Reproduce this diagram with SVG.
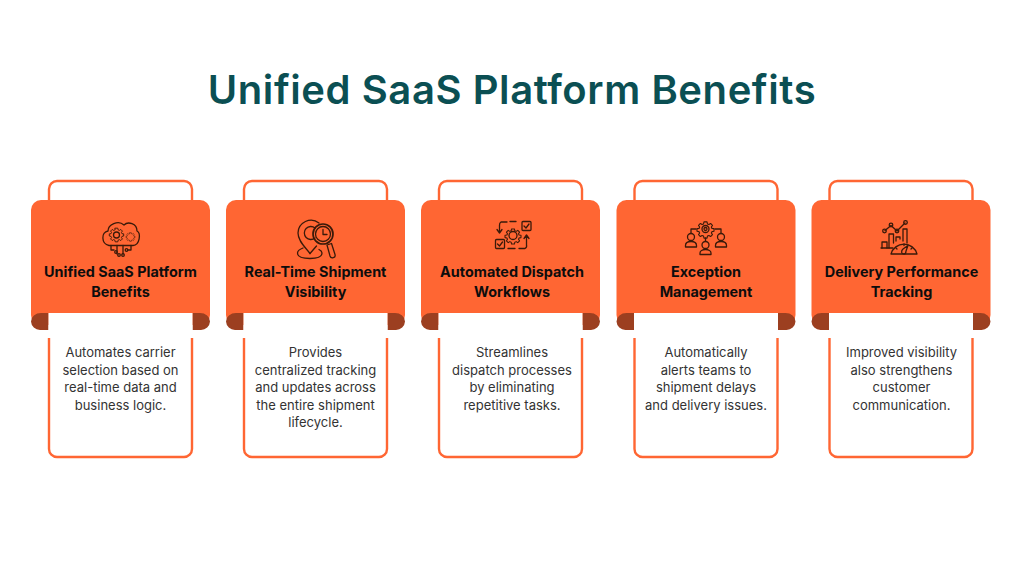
<svg xmlns="http://www.w3.org/2000/svg" width="1024" height="576" viewBox="0 0 1024 576">
<style>
.t{font-family:"Inter","Liberation Sans",sans-serif}
.title{font-size:40px;font-weight:600;letter-spacing:.58px;fill:#0b4f53;text-anchor:middle}
.h{font-size:14.4px;font-weight:700;fill:#0d0d0d;text-anchor:middle}
.b{font-size:13px;font-weight:400;fill:#333;text-anchor:middle}
.i{fill:none;stroke:#3a1a0a;stroke-width:1.3;stroke-linecap:round;stroke-linejoin:round}
.line{fill:none;stroke:#ff6633;stroke-width:2.4}
</style>
<defs>
<g id="card">
<path class="line" d="M18 201V189a8 8 0 0 1 8-8H153a8 8 0 0 1 8 8V201"/>
<path class="line" d="M18 338V449a8 8 0 0 0 8 8H153a8 8 0 0 0 8-8V338"/>
<rect x="0" y="200" width="179" height="125" rx="10" fill="#ff6633"/>
<path d="M17.500 313H10a10 8.500 0 0 0-10 8.500a9 9 0 0 0 9 8.500H17.500Z" fill="#9c3f20"/>
<path d="M161.500 313H169a10 8.500 0 0 1 10 8.500a9 9 0 0 1-9 8.500H161.500Z" fill="#9c3f20"/>
<rect x="17.500" y="313" width="144" height="25" fill="#fff"/>
</g>
<g id="gear">
<path d="M-1.800-8H1.800L2.300-5.600 4-4.900 6-6.200 8.200-4 6.900-2 7.600-.3 10-.1V2.900L7.600 3.400 6.900 5 8.200 7 6 9.200 4 7.900 2.300 8.600 1.800 11H-1.800L-2.300 8.600-4 7.900-6 9.200-8.200 7-6.900 5-7.600 3.400-10 2.900V-.1L-7.600-.3-6.900-2-8.200-4-6-6.200-4-4.900-2.300-5.600Z" transform="translate(0 -1.500)"/>
</g>
</defs>

<text class="t title" x="512" y="104">Unified SaaS Platform Benefits</text>

<g id="node-1" transform="translate(31 0)">
<use href="#card"/>
<g class="i" transform="translate(-31 0)">
<path d="M109 245.500C101 244 101 232 108 231C108 225 118 219.500 124 225C128 221 137 223.500 137 231C141 233 140 245 133 245.500H109Z"/>
<use href="#gear" transform="translate(116.500 235) scale(.72)"/>
<circle cx="116.500" cy="235" r="3"/>
<use href="#gear" transform="translate(130.500 237) scale(.45)"/>
<path d="M111 245.500V250H114M117 245.500V254M123 245.500V254M131 245.500V250H128"/>
<circle cx="116" cy="252" r="1.300"/><circle cx="119" cy="255" r="1.300"/><circle cx="123" cy="255" r="1.300"/><circle cx="126.500" cy="250" r="1.300"/>
</g>
<text class="t h" x="89.500" y="277">Unified SaaS Platform</text>
<text class="t h" x="89.500" y="297">Benefits</text>
<text class="t b" x="89.500" y="357">Automates carrier</text>
<text class="t b" x="89.500" y="375">selection based on</text>
<text class="t b" x="89.500" y="392">real-time data and</text>
<text class="t b" x="89.500" y="410">business logic.</text>
</g>

<g id="node-2" transform="translate(226 0)">
<use href="#card"/>
<g class="i" transform="translate(-226 0)">
<path d="M310 253.500C305 247 298 241 298 233A13 13 0 0 1 319 223"/>
<path d="M310 253.500L316.500 246"/>
<path d="M315 228A6.500 6.500 0 1 0 315 238"/>
<path d="M303 248C299 249.500 297.500 251 297.500 253C297.500 257 304 258.500 310 258.500C316 258.500 322 257 322 253C322 251.500 321 250.500 319 249.500"/>
<circle cx="323" cy="234" r="10" stroke-width="1.700"/>
<circle cx="323" cy="234" r="7.500"/>
<path d="M323 229.500V234.500H327"/>
<path d="M327 245L331.500 243.500L335 254.500A2.500 2.500 0 0 1 330 256Z"/>
</g>
<text class="t h" x="89.500" y="277">Real-Time Shipment</text>
<text class="t h" x="89.500" y="297">Visibility</text>
<text class="t b" x="89.500" y="357">Provides</text>
<text class="t b" x="89.500" y="375">centralized tracking</text>
<text class="t b" x="89.500" y="392">and updates across</text>
<text class="t b" x="89.500" y="410">the entire shipment</text>
<text class="t b" x="89.500" y="427">lifecycle.</text>
</g>

<g id="node-3" transform="translate(421 0)">
<use href="#card"/>
<g class="i" transform="translate(-421 0)">
<use href="#gear" transform="translate(513 236.500) scale(.8)"/>
<circle cx="513" cy="235.500" r="4"/>
<rect x="522" y="221.500" width="9" height="9" rx="1"/><path d="M524 226L526 228L529 224"/>
<rect x="495.500" y="239.500" width="9" height="9" rx="1"/><path d="M497.500 244L499.500 246L502.500 242"/>
<path d="M507 222H501A3.500 3.500 0 0 0 499.500 225V232M497 229.500L499.500 233L502 229.500"/>
<path d="M510 221.500H516"/>
<path d="M519 248.500H525A3 3 0 0 0 526.500 245V236.500M524 238.500L526.500 235L529 238.500"/>
<path d="M508 248.500H515"/>
</g>
<text class="t h" x="91" y="277">Automated Dispatch</text>
<text class="t h" x="91" y="297">Workflows</text>
<text class="t b" x="91" y="357">Streamlines</text>
<text class="t b" x="91" y="375">dispatch processes</text>
<text class="t b" x="91" y="392">by eliminating</text>
<text class="t b" x="91" y="410">repetitive tasks.</text>
</g>

<g id="node-4" transform="translate(616.500 0)">
<use href="#card"/>
<g class="i" transform="translate(-616.500 0)">
<use href="#gear" transform="translate(705.500 230) scale(.85)"/>
<circle cx="705.500" cy="229" r="3.500"/>
<circle cx="705.500" cy="229" r="1.500"/>
<path d="M696 229H691V233M715 229H721V233M705.500 238V241"/>
<circle cx="691" cy="237" r="3.500"/><path d="M685.500 247V245.500C685.500 243 688 241.500 691 241.500C694 241.500 696.500 243 696.500 245.500V247Z"/>
<circle cx="721" cy="237" r="3.500"/><path d="M715.500 247V245.500C715.500 243 718 241.500 721 241.500C724 241.500 726.500 243 726.500 245.500V247Z"/>
<circle cx="705.500" cy="245" r="3.500"/><path d="M700 254.500V253C700 251 702.500 249.500 705.500 249.500C708.500 249.500 711 251 711 253V254.500Z"/>
</g>
<text class="t h" x="89.500" y="277">Exception</text>
<text class="t h" x="89.500" y="297">Management</text>
<text class="t b" x="89.500" y="357">Automatically</text>
<text class="t b" x="89.500" y="375">alerts teams to</text>
<text class="t b" x="89.500" y="392">shipment delays</text>
<text class="t b" x="89.500" y="410">and delivery issues.</text>
</g>

<g id="node-5" transform="translate(811.500 0)">
<use href="#card"/>
<g class="i" transform="translate(-811.500 0)">
<path d="M885 230.500L891 225.500L897 231L905 223"/>
<circle cx="884.500" cy="231" r="1.800"/><circle cx="891" cy="225" r="1.800"/><circle cx="897" cy="231" r="1.800"/><circle cx="905.500" cy="222.500" r="1.800"/>
<path d="M882 248V242H887V248M889 248V234H893.500V243M896 241V237H900V239M903 241V229H907V243"/>
<path d="M881 248H893"/>
<path d="M891 254A13.500 13.500 0 0 1 917 254H891Z"/>
<path d="M904 254C901 254 901 251 903 249L908 245.500L906 251C906 253 905 254 904 254Z"/>
<path d="M896 248L897 249M904 244V245.500M912 248L911 249"/>
</g>
<text class="t h" x="90" y="277">Delivery Performance</text>
<text class="t h" x="90" y="297">Tracking</text>
<text class="t b" x="90" y="357">Improved visibility</text>
<text class="t b" x="90" y="375">also strengthens</text>
<text class="t b" x="90" y="392">customer</text>
<text class="t b" x="90" y="410">communication.</text>
</g>
</svg>
